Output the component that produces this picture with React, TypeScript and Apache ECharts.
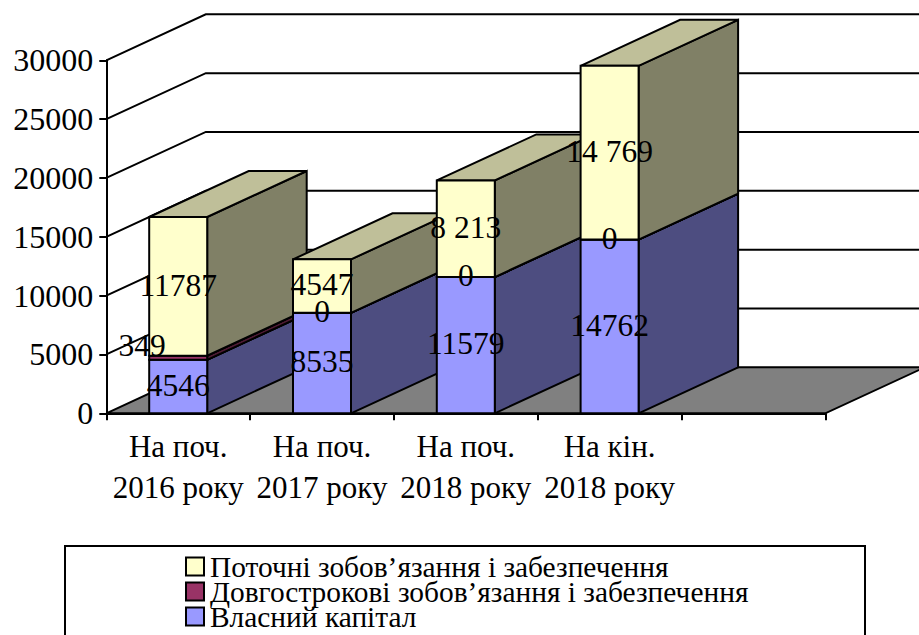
import React, { useEffect, useRef } from "react";
import * as echarts from "echarts";

const categories = ["На поч.\n2016 року", "На поч.\n2017 року", "На поч.\n2018 року", "На кін.\n2018 року", ""];
const yTicks = [0, 5000, 10000, 15000, 20000, 25000, 30000];
const equity = [4546, 8535, 11579, 14762];
const longTerm = [349, 0, 0, 0];
const current = [11787, 4547, 8213, 14769];
const equityLabels = ["4546", "8535", "11579", "14762"];
const longTermLabels = ["349", "0", "0", "0"];
const currentLabels = ["11787", "4547", "8 213", "14 769"];
const nameEquity = "Власний капітал";
const nameLongTerm = "Довгострокові зобов’язання і забезпечення";
const nameCurrent = "Поточні зобов’язання і забезпечення";

const FONT = "'Liberation Serif', 'Times New Roman', serif";
const DX = 99.5;
const DY = 46;
const BAR_RATIO = 58 / 143.8;
const LABEL_SIZE = 31.5;
const AXIS_SIZE = 31;
const Y_AXIS_SIZE = 32;
const LABEL_NUDGE = -1.2;

const stackRows = (vals: number[], below: number[]) =>
  vals.map((v, i) => [i, below[i], below[i] + v]);
const sumArr = (a: number[], b: number[]) => a.map((v, i) => v + b[i]);

function barRenderer(front: string, side: string, top: string, labels: string[], level: number, offsets: Record<number, number[]>) {
  return (params: any, api: any) => {
    const i = params.dataIndex;
    const [cx, y0] = api.coord([api.value(0), api.value(1)]);
    const [, y1] = api.coord([api.value(0), api.value(2)]);
    const w = api.size([1, 0])[0] * BAR_RATIO;
    const l = cx - w / 2;
    const r = cx + w / 2;
    const z = 10 + i * 10 + level;
    const line = { stroke: "#000", lineWidth: 2, lineJoin: "miter" };
    const off = offsets[i] || [0, 0];
    return {
      type: "group",
      children: [
        { type: "polygon", z2: z, shape: { points: [[r, y0], [r + DX, y0 - DY], [r + DX, y1 - DY], [r, y1]] }, style: { fill: side, ...line } },
        { type: "polygon", z2: z, shape: { points: [[l, y1], [r, y1], [r + DX, y1 - DY], [l + DX, y1 - DY]] }, style: { fill: top, ...line } },
        { type: "rect", z2: z + 1, shape: { x: l, y: y1, width: w, height: y0 - y1 }, style: { fill: front, ...line } },
        {
          type: "text",
          z2: 200,
          x: cx + off[0],
          y: (y0 + y1) / 2 + off[1] + LABEL_NUDGE,
          style: { text: labels[i], fill: "#000", font: `${LABEL_SIZE}px ${FONT}`, align: "center", verticalAlign: "middle" },
        },
      ],
    };
  };
}

function wallRenderer(params: any, api: any) {
  const v = api.value(0);
  const y = api.coord([0, v])[1];
  const cs = params.coordSys;
  const xl = cs.x;
  const xr = cs.x + cs.width;
  const line = { stroke: "#000", lineWidth: 2, fill: "none" };
  if (v === 0) {
    return {
      type: "polygon",
      z2: 2,
      shape: { points: [[xl, y], [xl + DX, y - DY], [xr + DX, y - DY], [xr, y]] },
      style: { fill: "#808080", stroke: "#000", lineWidth: 2 },
    };
  }
  return {
    type: "polyline",
    z2: 1,
    shape: { points: [[xl, y], [xl + DX, y - DY], [xr + DX, y - DY]] },
    style: line,
  };
}

export default function App() {
  const ref = useRef<HTMLDivElement>(null);
  useEffect(() => {
    const chart = echarts.init(ref.current!, undefined, { renderer: "svg" });
    const midBase = equity;
    const topBase = sumArr(equity, longTerm);
    chart.setOption({
      animation: false,
      backgroundColor: "#fff",
      textStyle: { fontFamily: FONT },
      grid: { left: 106.3, top: 60.3, width: 719, height: 353 },
      xAxis: {
        type: "category",
        data: categories,
        axisLine: { lineStyle: { color: "#000", width: 2 } },
        axisTick: { show: true, length: 7, lineStyle: { color: "#000", width: 2 } },
        axisLabel: { interval: 0, color: "#000", fontFamily: FONT, fontSize: AXIS_SIZE, lineHeight: 41, margin: 13 },
        splitLine: { show: false },
      },
      yAxis: {
        type: "value",
        min: 0,
        max: 30000,
        interval: 5000,
        axisLine: { show: true, lineStyle: { color: "#000", width: 2 } },
        axisTick: { show: true, length: 7, lineStyle: { color: "#000", width: 2 } },
        axisLabel: { color: "#000", fontFamily: FONT, fontSize: Y_AXIS_SIZE, margin: 13, formatter: (v: number) => String(v) },
        splitLine: { show: false },
      },
      legend: {
        orient: "vertical",
        left: 185,
        top: 552,
        height: 300,
        padding: 0,
        itemWidth: 18,
        itemHeight: 18,
        itemGap: -4,
        icon: "rect",
        data: [nameCurrent, nameLongTerm, nameEquity],
        selectedMode: false,
        itemStyle: { borderColor: "#000", borderWidth: 2 },
        textStyle: { color: "#000", fontFamily: FONT, fontSize: 29.4, padding: [0, 0, 0, 1] },
      },
      graphic: [
        {
          type: "rect",
          shape: { x: 65, y: 546, width: 800, height: 200 },
          style: { fill: "none", stroke: "#000", lineWidth: 2 },
        },
      ],
      series: [
        {
          type: "custom",
          name: "walls",
          z: 1,
          renderItem: wallRenderer,
          data: yTicks.map((v) => [v]),
          encode: { y: 0 },
          silent: true,
        },
        {
          type: "custom",
          name: nameEquity,
          z: 3,
          itemStyle: { color: "#9999FF" },
          renderItem: barRenderer("#9999FF", "#4D4D80", "#8080BF", equityLabels, 0, {}),
          data: stackRows(equity, equity.map(() => 0)),
          encode: { x: 0, y: [1, 2] },
        },
        {
          type: "custom",
          name: nameLongTerm,
          z: 3,
          itemStyle: { color: "#993366" },
          renderItem: barRenderer("#993366", "#4D1A33", "#73264D", longTermLabels, 2, { 0: [-36, -11.5] }),
          data: stackRows(longTerm, midBase),
          encode: { x: 0, y: [1, 2] },
        },
        {
          type: "custom",
          name: nameCurrent,
          z: 3,
          itemStyle: { color: "#FFFFCC" },
          renderItem: barRenderer("#FFFFCC", "#808066", "#BFBF99", currentLabels, 4, {}),
          data: stackRows(current, topBase),
          encode: { x: 0, y: [1, 2] },
        },
      ],
    });
    return () => chart.dispose();
  }, []);
  return <div ref={ref} style={{ position: "absolute", left: 0, top: 0, width: 919, height: 635 }} />;
}
